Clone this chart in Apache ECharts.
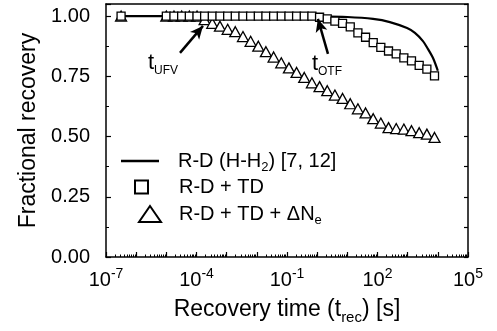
<!DOCTYPE html>
<html><head><meta charset="utf-8">
<script src="https://cdn.jsdelivr.net/npm/echarts@6/dist/echarts.min.js"></script>
<style>html,body{margin:0;padding:0;background:#fff}#c{width:497px;height:331px}</style>
</head><body><div id="c"></div>
<script>
const FONT = 'Liberation Sans, Arial, Helvetica, sans-serif';

// R-D (H-H2) model curve
const lineTimes  = [3.16e-7, 1e-5, 1e-3, 0.1, 1, 10, 71, 257, 955, 1740, 3160, 4680, 6920, 1e4];
const lineValues = [1, 1, 1, 1, 0.999, 0.996, 0.988, 0.975, 0.95, 0.93, 0.897, 0.864, 0.826, 0.773];

// measurement times (s)
const recTimes = [3.16e-7,
  1.0e-5, 1.79e-5, 3.22e-5, 5.78e-5, 1.04e-4, 1.86e-4, 3.34e-4, 6.0e-4, 1.08e-3, 1.93e-3,
  3.47e-3, 6.22e-3, 1.12e-2, 2.0e-2, 3.6e-2, 6.46e-2, 0.116, 0.208, 0.373, 0.67,
  1.2, 2.16, 3.87, 6.95, 12.5, 22.4, 40.2, 72.1, 129, 232,
  417, 748, 1340, 2410, 4330, 7760];

// R-D + TD
const tdValues = [1,
  1, 1, 1, 1, 1, 1, 1, 1, 1, 1,
  1, 1, 1, 1, 1, 1, 1, 1, 1, 1,
  0.995, 0.988, 0.979, 0.97, 0.955, 0.93, 0.912, 0.89, 0.87, 0.855,
  0.843, 0.826, 0.814, 0.795, 0.78, 0.752];

// R-D + TD + dNe
const neValues = [1,
  1, 1, 1, 1, 1, 0.985, 0.97, 0.958, 0.945, 0.935,
  0.915, 0.895, 0.875, 0.852, 0.83, 0.806, 0.785, 0.766, 0.745, 0.723,
  0.707, 0.69, 0.672, 0.658, 0.636, 0.615, 0.598, 0.574, 0.556, 0.537,
  0.533, 0.531, 0.524, 0.516, 0.51, 0.496];

const yTicks = [0, 0.25, 0.5, 0.75, 1.0];

// annotations: [tail, tip, label position]
const ufvTail = [2.84e-5, 0.847], ufvTip = [1.64e-4, 0.959], ufvText = [7.76e-6, 0.806];
const otfTail = [2.28, 0.843],   otfTip = [1.06, 0.988],   otfText = [2.11, 0.802];

const zip = (a, b) => a.map((v, i) => [v, b[i]]);

const legendRich = {
  a0: {fontSize: 20, fontFamily: FONT, color: '#000', lineHeight: 26},
  a:  {fontSize: 20, fontFamily: FONT, color: '#000', lineHeight: 26},
  s:  {fontSize: 13, fontFamily: FONT, color: '#000', lineHeight: 13, verticalAlign: 'bottom'}
};
function rich(pad) {
  const r = JSON.parse(JSON.stringify(legendRich));
  r.a0.padding = [0, 0, 0, pad];
  return r;
}

const chart = echarts.init(document.getElementById('c'), null, {renderer: 'canvas'});
chart.setOption({
  animation: false,
  backgroundColor: '#fff',
  grid: {left: 106, right: 29, top: 4, bottom: 74},
  xAxis: [{
    type: 'log', logBase: 10, min: 1e-7, max: 1e5, interval: 1,
    name: '{a|Recovery time (t}{s|rec}{a|) [s]}',
    nameLocation: 'middle', nameGap: 38,
    nameTextStyle: {rich: {
      a: {fontSize: 23, fontFamily: FONT, color: '#000', lineHeight: 30},
      s: {fontSize: 15, fontFamily: FONT, color: '#000', lineHeight: 15, verticalAlign: 'bottom'}
    }},
    axisLine: {lineStyle: {color: '#000', width: 1.5}},
    axisTick: {inside: true, length: 5, lineStyle: {color: '#000', width: 1.2}},
    minorTick: {show: true, splitNumber: 9, length: 2.5, lineStyle: {color: '#000', width: 1}},
    splitLine: {show: false}, minorSplitLine: {show: false},
    axisLabel: {
      margin: 10,
      formatter: function (v) {
        const e = Math.round(Math.log10(v));
        if ((e + 7) % 3 !== 0) return '';
        return '{b|10}{s|' + e + '}';
      },
      rich: {
        b: {fontSize: 20, fontFamily: FONT, color: '#000', lineHeight: 26},
        s: {fontSize: 14, fontFamily: FONT, color: '#000', lineHeight: 14, verticalAlign: 'top'}
      }
    }
  }, {
    type: 'log', logBase: 10, min: 1e-7, max: 1e5, position: 'top',
    axisLine: {show: true, onZero: false, lineStyle: {color: '#000', width: 1.5}},
    axisTick: {show: false}, axisLabel: {show: false}, splitLine: {show: false}
  }],
  yAxis: [{
    type: 'value', min: 0, max: 1.05, interval: 0.25,
    name: 'Fractional recovery', nameLocation: 'middle', nameGap: 66,
    nameTextStyle: {fontSize: 23, fontFamily: FONT, color: '#000'},
    axisLine: {show: true, lineStyle: {color: '#000', width: 1.5}},
    axisTick: {inside: true, length: 5, lineStyle: {color: '#000', width: 1.2}},
    minorTick: {show: true, splitNumber: 2, length: 3, lineStyle: {color: '#000', width: 1}},
    splitLine: {show: false},
    axisLabel: {
      margin: 16, fontSize: 20, fontFamily: FONT, color: '#000', showMaxLabel: false,
      formatter: v => (yTicks.indexOf(Math.round(v * 100) / 100) >= 0 ? v.toFixed(2) : '')
    }
  }, {
    type: 'value', min: 0, max: 1.05, interval: 0.25, position: 'right',
    axisLine: {show: true, onZero: false, lineStyle: {color: '#000', width: 1.5}},
    axisTick: {inside: true, length: 4, lineStyle: {color: '#000', width: 1.2}},
    minorTick: {show: true, splitNumber: 2, length: 4, lineStyle: {color: '#000', width: 1.2}},
    axisLabel: {show: false}, splitLine: {show: false}
  }],
  legend: [{
    data: [{name: 'RD', icon: 'rect'}], left: 121, top: 151, padding: 0, selectedMode: false,
    itemWidth: 38, itemHeight: 2.5,
    itemStyle: {color: '#000', borderWidth: 0},
    formatter: () => '{a0|R-D (H-H}{s|2}{a|) [7, 12]}',
    textStyle: {rich: rich(14)}
  }, {
    data: [{name: 'TD', icon: 'rect'}], left: 134, top: 177, padding: 0, selectedMode: false,
    itemWidth: 13, itemHeight: 13,
    itemStyle: {color: '#fff', borderColor: '#000', borderWidth: 2},
    formatter: () => '{a0|R-D + TD}',
    textStyle: {rich: rich(26)}
  }, {
    data: [{name: 'NE', icon: 'triangle'}], left: 138, top: 204, padding: 0, selectedMode: false,
    itemWidth: 22, itemHeight: 16,
    itemStyle: {color: '#fff', borderColor: '#000', borderWidth: 2},
    formatter: () => '{a0|R-D + TD + \u0394N}{s|e}',
    textStyle: {rich: rich(13)}
  }],
  series: [{
    name: 'RD', type: 'line', data: zip(lineTimes, lineValues), smooth: 0.3,
    showSymbol: false, symbol: 'none', z: 2,
    lineStyle: {color: '#000', width: 2.2},
    itemStyle: {color: '#000'},
    markLine: {
      silent: true, symbol: ['none', 'arrow'], symbolSize: [9, 13],
      label: {show: false},
      lineStyle: {color: '#000', width: 2.5, type: 'solid'},
      itemStyle: {color: '#000'},
      data: [
        [{coord: ufvTail}, {coord: ufvTip}],
        [{coord: otfTail}, {coord: otfTip}]
      ]
    },
    markPoint: {
      silent: true, symbol: 'rect', symbolSize: 1, itemStyle: {color: 'rgba(0,0,0,0)'},
      label: {
        show: true, position: 'inside',
        rich: {
          t: {fontSize: 22, fontFamily: FONT, color: '#000', lineHeight: 28},
          s: {fontSize: 12, fontFamily: FONT, color: '#000', lineHeight: 12, verticalAlign: 'bottom'}
        }
      },
      data: [
        {coord: ufvText, label: {formatter: '{t|t}{s|UFV}'}},
        {coord: otfText, label: {formatter: '{t|t}{s|OTF}'}}
      ]
    }
  }, {
    name: 'NE', type: 'scatter', data: zip(recTimes, neValues), z: 3,
    symbol: 'triangle', symbolSize: [11, 10],
    itemStyle: {color: '#fff', borderColor: '#000', borderWidth: 1.3, opacity: 1}
  }, {
    name: 'TD', type: 'scatter', data: zip(recTimes, tdValues), z: 4,
    symbol: 'rect', symbolSize: 8,
    itemStyle: {color: '#fff', borderColor: '#000', borderWidth: 1.3, opacity: 1}
  }]
});
</script>
</body></html>
